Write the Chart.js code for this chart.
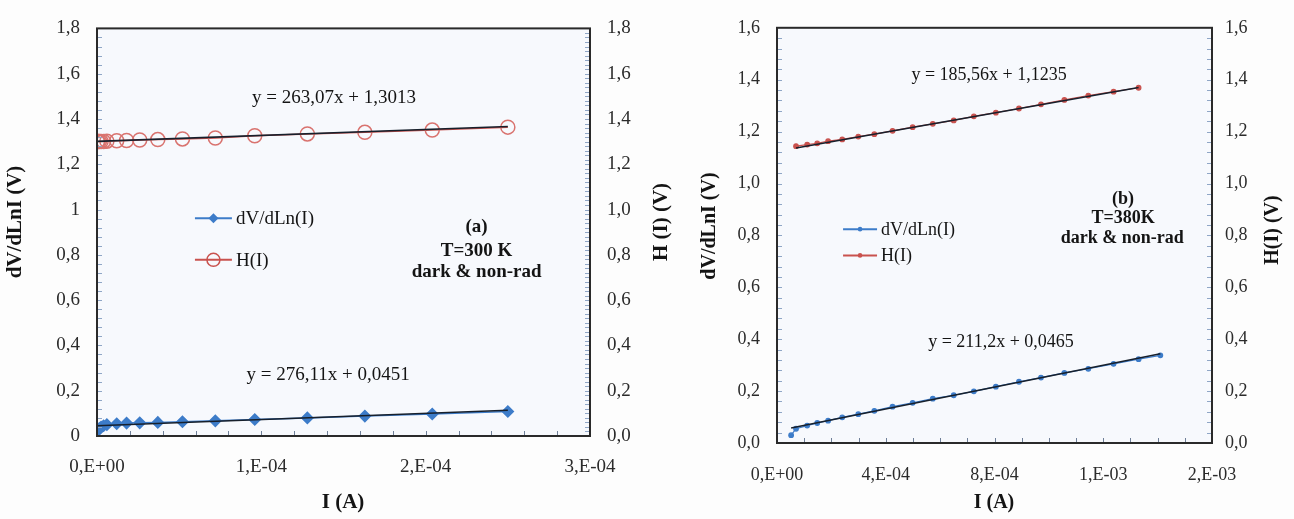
<!DOCTYPE html>
<html>
<head>
<meta charset="utf-8">
<script src="https://cdn.jsdelivr.net/npm/chart.js@4.4.1/dist/chart.umd.min.js"></script>
<style>
body{margin:0;background:#fdfdfd;width:1294px;height:519px;overflow:hidden;position:relative}
canvas{position:absolute;top:0}
#grafA{left:0}
#grafB{left:690px}
</style>
</head>
<body>
<canvas id="grafA" width="690" height="519"></canvas>
<canvas id="grafB" width="604" height="519"></canvas>
<script>
// panel (a) T=300K
const corrienteA=[0.3e-6,0.8e-6,1.5e-6,2.5e-6,4e-6,6e-6,1.2e-5,1.8e-5,2.6e-5,3.7e-5,5.2e-5,7.2e-5,9.6e-5,1.28e-4,1.63e-4,2.04e-4,2.50e-4];
const dvA=[0.022,0.028,0.034,0.040,0.045,0.050,0.054,0.057,0.058,0.060,0.063,0.067,0.073,0.080,0.088,0.097,0.108];
const hA=[1.300,1.300,1.301,1.301,1.301,1.302,1.304,1.305,1.307,1.309,1.312,1.316,1.326,1.334,1.341,1.351,1.364];
const tendXA=[0,2.5e-4];
const tendDvA=[0.0451,0.114];
const tendHA=[1.3013,1.367];
const ecuacionesA=['y = 263,07x + 1,3013','y = 276,11x + 0,0451'];
const notaA=['(a)','T=300 K','dark & non-rad'];

// panel (b) T=380K
const corrienteDvB=[0.52e-4,0.70e-4,1.11e-4,1.48e-4,1.88e-4,2.40e-4,2.99e-4,3.58e-4,4.25e-4,4.99e-4,5.73e-4,6.50e-4,7.24e-4,8.05e-4,8.90e-4,9.71e-4,10.57e-4,11.45e-4,12.38e-4,13.30e-4,14.10e-4];
const dvB=[0.030,0.055,0.067,0.077,0.086,0.099,0.111,0.124,0.140,0.155,0.171,0.184,0.199,0.217,0.236,0.252,0.270,0.286,0.305,0.323,0.338];
const corrienteHB=[0.70e-4,1.11e-4,1.48e-4,1.88e-4,2.40e-4,2.99e-4,3.58e-4,4.25e-4,4.99e-4,5.73e-4,6.50e-4,7.24e-4,8.05e-4,8.90e-4,9.71e-4,10.57e-4,11.45e-4,12.38e-4,13.30e-4];
const hB=[1.144,1.150,1.155,1.163,1.170,1.181,1.190,1.203,1.217,1.230,1.243,1.259,1.273,1.289,1.305,1.322,1.339,1.354,1.369];
const tendXDvB=[0.52e-4,14.10e-4];
const tendDvB=[0.0575,0.344];
const tendXHB=[0.70e-4,13.30e-4];
const tendHB=[1.1365,1.370];
const ecuacionesB=['y = 185,56x + 1,1235','y = 211,2x + 0,0465'];
const notaB=['(b)','T=380K','dark & non-rad'];

const nombresSeries=['dV/dLn(I)','H(I)'];
const AZUL='#3d7cc9',ROJO='#c9524e',NEGRO='#17202c';
const SERIF='"Liberation Serif","Times New Roman",serif';

function puntos(xs,ys){return xs.map((x,i)=>({x:x,y:ys[i]}));}

//0,E+00 estilo excel
function formatoExp(v)
{
    if(Math.abs(v)<1e-12)return '0,E+00';
    let e=Math.floor(Math.log10(v)+1e-9);
    let m=Math.round(v/Math.pow(10,e));
    if(m>=10){m=1;e++;}
    return m+',E'+(e<0?'-':'+')+String(Math.abs(e)).padStart(2,'0');
}
function formatoGeneral(v)
{
    const r=Math.round(v*10)/10;
    return Number.isInteger(r)?String(r):r.toFixed(1).replace('.',',');
}
function formatoDecimal(v)
{
    return (Math.round(v*10)/10).toFixed(1).replace('.',',');
}

function marcador(ctx,tipo,x,y,r,color)
{
    ctx.save();
    ctx.fillStyle=color;ctx.strokeStyle=color;ctx.lineWidth=1.5;
    ctx.beginPath();
    if(tipo==='rombo')
    {
        ctx.moveTo(x,y-r);ctx.lineTo(x+r,y);ctx.lineTo(x,y+r);ctx.lineTo(x-r,y);ctx.closePath();ctx.fill();
    }
    else if(tipo==='aro')
    {
        ctx.arc(x,y,r,0,Math.PI*2);ctx.stroke();
    }
    else
    {
        ctx.arc(x,y,r,0,Math.PI*2);ctx.fill();
    }
    ctx.restore();
}

function ticksMenores(ctx,escala,paso,lado,area,color)
{
    if(!escala)return;
    ctx.strokeStyle=color;ctx.lineWidth=1;
    const n=Math.round((escala.max-escala.min)/paso);
    ctx.beginPath();
    for(let i=1;i<n;i++)
    {
        const p=Math.round(escala.getPixelForValue(escala.min+i*paso))+0.5;
        if(lado==='abajo'){ctx.moveTo(p,area.bottom);ctx.lineTo(p,area.bottom-5);}
        if(lado==='izq'){ctx.moveTo(area.left,p);ctx.lineTo(area.left+5,p);}
        if(lado==='der'){ctx.moveTo(area.right,p);ctx.lineTo(area.right-5,p);}
    }
    ctx.stroke();
}

function texto(ctx,txt,x,y,font,rot)
{
    ctx.save();
    ctx.font=font;ctx.fillStyle='#141414';ctx.textAlign='center';ctx.textBaseline='middle';
    ctx.translate(x,y);
    if(rot)ctx.rotate(-Math.PI/2);
    ctx.fillText(txt,0,0);
    ctx.restore();
}

function decoracion(conf)
{
    return {
        id:'deco',
        beforeDraw(chart)
        {
            const {ctx,chartArea:a}=chart;
            ctx.save();
            ctx.fillStyle='#f7f9fd';
            ctx.fillRect(a.left,a.top,a.right-a.left,a.bottom-a.top);
            ctx.restore();
        },
        afterDraw(chart)
        {
            const {ctx,chartArea:a,scales}=chart;
            const sx=scales.x,sy=scales.y;
            ctx.save();
            ticksMenores(ctx,sx,conf.pasoX,'abajo',a,'#6f7f98');
            ticksMenores(ctx,sy,conf.pasoY,'izq',a,'#8fa6c6');
            ticksMenores(ctx,scales.y2,conf.pasoY2,'der',a,'#8fa6c6');
            ctx.strokeStyle='#2a2a2a';ctx.lineWidth=2;
            ctx.strokeRect(a.left,a.top,a.right-a.left,a.bottom-a.top);
            ctx.restore();

            //ecuaciones y notas
            conf.textos.forEach(t=>texto(ctx,t.txt,sx.getPixelForValue(t.x),sy.getPixelForValue(t.y),t.font));

            //leyenda dentro del grafico
            conf.leyenda.forEach(l=>
            {
                const x1=sx.getPixelForValue(l.x1),x2=sx.getPixelForValue(l.x2),y=sy.getPixelForValue(l.y);
                ctx.save();
                ctx.strokeStyle=l.color;ctx.lineWidth=2;
                ctx.beginPath();ctx.moveTo(x1,y);ctx.lineTo(x2,y);ctx.stroke();
                ctx.restore();
                marcador(ctx,l.tipo,(x1+x2)/2,y,l.r,l.color);
                ctx.save();
                ctx.font=conf.fuenteLeyenda;ctx.fillStyle='#141414';ctx.textAlign='left';ctx.textBaseline='middle';
                ctx.fillText(l.txt,x2+4,y+1);
                ctx.restore();
            });

            //titulos de ejes
            conf.titulos.forEach(t=>texto(ctx,t.txt,t.x,t.y,t.font,t.rot));
        }
    };
}

function ejeY(pos,max,formato,ancho,pad,fuente)
{
    return {
        type:'linear',position:pos,min:0,max:max,
        ticks:{stepSize:0.2,callback:v=>formato(v),color:'#2b2b2b',font:{family:SERIF,size:fuente},padding:pad},
        grid:{display:false,drawTicks:false},border:{display:false},
        afterFit:s=>{s.width=ancho;}
    };
}

function crearPanel(id,datasets,xMax,xPaso,ejes,alto,top,fuente,pad,conf)
{
    const scales={
        x:{
            type:'linear',min:0,max:xMax,
            ticks:{stepSize:xPaso,callback:v=>formatoExp(v),color:'#2b2b2b',font:{family:SERIF,size:fuente},padding:pad,maxRotation:0,autoSkip:false},
            grid:{display:false,drawTicks:false},border:{display:false},
            afterFit:s=>{s.height=alto;}
        },
        ...ejes
    };
    return new Chart(document.getElementById(id),{
        type:'scatter',
        data:{datasets:datasets},
        options:{
            responsive:false,animation:false,
            layout:{padding:{top:top,left:0,right:0,bottom:0}},
            plugins:{legend:{display:false},tooltip:{enabled:false}},
            scales:scales
        },
        plugins:[decoracion(conf)]
    });
}

const fA='19px '+SERIF,fAb='bold 19px '+SERIF,tA='bold 21px '+SERIF;
crearPanel('grafA',
    [
        {data:puntos(tendXA,tendHA),yAxisID:'y2',showLine:true,borderColor:NEGRO,borderWidth:1.6,pointRadius:0},
        {data:puntos(tendXA,tendDvA),yAxisID:'y',showLine:true,borderColor:NEGRO,borderWidth:1.6,pointRadius:0},
        {data:puntos(corrienteA,dvA),yAxisID:'y',showLine:true,borderColor:AZUL,borderWidth:1.5,pointStyle:'rectRot',pointRadius:5.5,pointBackgroundColor:AZUL,pointBorderColor:AZUL},
        {data:puntos(corrienteA,hA),yAxisID:'y2',showLine:true,borderColor:ROJO,borderWidth:1.5,pointStyle:'circle',pointRadius:7,pointBackgroundColor:'rgba(0,0,0,0)',pointBorderColor:'#d9736f',pointBorderWidth:1.5}
    ],
    3e-4,1e-4,
    {y:ejeY('left',1.8,formatoGeneral,97,17,19),y2:ejeY('right',1.8,formatoDecimal,100,17,19)},
    83,15,19,20,
    {
        pasoX:2e-5,pasoY:0.04,pasoY2:0.02,fuenteLeyenda:fA,
        textos:[
            {txt:ecuacionesA[0],x:1.442e-4,y:1.492,font:fA},
            {txt:ecuacionesA[1],x:1.406e-4,y:0.269,font:fA},
            {txt:notaA[0],x:2.31e-4,y:0.924,font:fAb},
            {txt:notaA[1],x:2.31e-4,y:0.817,font:fAb},
            {txt:notaA[2],x:2.31e-4,y:0.723,font:fAb}
        ],
        leyenda:[
            {txt:nombresSeries[0],x1:5.96e-5,x2:8.21e-5,y:0.962,color:AZUL,tipo:'rombo',r:5},
            {txt:nombresSeries[1],x1:5.96e-5,x2:8.21e-5,y:0.778,color:ROJO,tipo:'aro',r:6.5}
        ],
        titulos:[
            {txt:'dV/dLnI (V)',x:16,y:222,font:tA,rot:true},
            {txt:'H (I) (V)',x:662,y:222,font:tA,rot:true},
            {txt:'I (A)',x:343,y:503,font:tA}
        ]
    }
);

const fB='18px '+SERIF,fBb='bold 18px '+SERIF,tB='bold 20px '+SERIF;
crearPanel('grafB',
    [
        {data:puntos(tendXHB,tendHB),yAxisID:'y2',showLine:true,borderColor:NEGRO,borderWidth:1.6,pointRadius:0},
        {data:puntos(tendXDvB,tendDvB),yAxisID:'y',showLine:true,borderColor:NEGRO,borderWidth:1.6,pointRadius:0},
        {data:puntos(corrienteDvB,dvB),yAxisID:'y',showLine:true,borderColor:AZUL,borderWidth:1.2,pointStyle:'circle',pointRadius:2.3,pointBackgroundColor:AZUL,pointBorderColor:AZUL},
        {data:puntos(corrienteHB,hB),yAxisID:'y2',showLine:true,borderColor:ROJO,borderWidth:1.2,pointStyle:'circle',pointRadius:2.3,pointBackgroundColor:ROJO,pointBorderColor:ROJO}
    ],
    1.6e-3,4e-4,
    {y:ejeY('left',1.6,formatoDecimal,87,17,18),y2:ejeY('right',1.6,formatoDecimal,82,13,18)},
    76,16,18,21,
    {
        pasoX:1e-4,pasoY:0.04,pasoY2:0.04,fuenteLeyenda:fB,
        textos:[
            {txt:ecuacionesB[0],x:7.80e-4,y:1.416,font:fB},
            {txt:ecuacionesB[1],x:8.24e-4,y:0.390,font:fB},
            {txt:notaB[0],x:1.273e-3,y:0.940,font:fBb},
            {txt:notaB[1],x:1.273e-3,y:0.866,font:fBb},
            {txt:notaB[2],x:1.270e-3,y:0.787,font:fBb}
        ],
        leyenda:[
            {txt:nombresSeries[0],x1:2.43e-4,x2:3.68e-4,y:0.824,color:AZUL,tipo:'punto',r:2.3},
            {txt:nombresSeries[1],x1:2.43e-4,x2:3.68e-4,y:0.723,color:ROJO,tipo:'punto',r:2.3}
        ],
        titulos:[
            {txt:'dV/dLnI (V)',x:20,y:226,font:tB,rot:true},
            {txt:'H(I) (V)',x:583,y:230,font:tB,rot:true},
            {txt:'I (A)',x:304,y:503,font:tB}
        ]
    }
);
</script>
</body>
</html>
